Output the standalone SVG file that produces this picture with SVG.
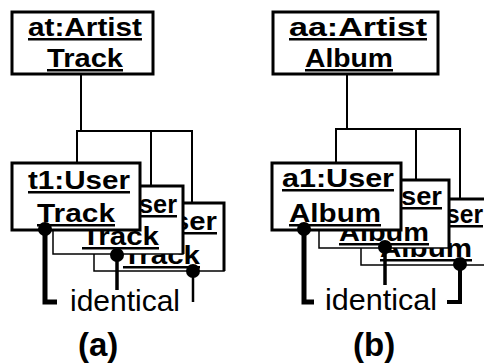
<svg xmlns="http://www.w3.org/2000/svg" width="484" height="364" viewBox="0 0 484 364">
<style>
.box{fill:#fff;stroke:#000;stroke-width:3}
.bk{fill:#fff;stroke:#000;stroke-width:1.5}
.edge{fill:none;stroke:#000;stroke-width:3}
.lbl{font-family:"Liberation Sans",Arial,sans-serif;font-weight:bold;font-size:25px;text-decoration:underline;fill:#000}
.wire{fill:none;stroke:#000;stroke-width:2}
.link{fill:none;stroke:#000}
.dot{fill:#000}
.id{font-family:"Liberation Sans",Arial,sans-serif;font-size:29px;fill:#000}
.cap{font-family:"Liberation Sans",Arial,sans-serif;font-weight:bold;font-size:33px;fill:#000}
</style>
<g id="n-at">
<rect class="box" x="12" y="12" width="141" height="62"/>
<text class="lbl" x="28" y="36" textLength="114" lengthAdjust="spacingAndGlyphs">at:Artist</text>
<text class="lbl" x="47" y="67" textLength="76" lengthAdjust="spacingAndGlyphs">Track</text>
</g>
<g id="n-t3">
<rect class="bk" x="94" y="203" width="130" height="68"/>
<polyline class="edge" points="94,203 224,203 224,271"/>
<text class="lbl" x="173" y="230" textLength="44" lengthAdjust="spacingAndGlyphs">ser</text>
<text class="lbl" x="123" y="264" textLength="77" lengthAdjust="spacingAndGlyphs">Track</text>
</g>
<g id="n-t2">
<rect class="bk" x="53" y="186" width="130" height="68"/>
<polyline class="edge" points="53,186 183,186 183,254"/>
<text class="lbl" x="139" y="213" textLength="38" lengthAdjust="spacingAndGlyphs">ser</text>
<text class="lbl" x="82" y="245" textLength="77" lengthAdjust="spacingAndGlyphs">Track</text>
</g>
<g id="n-t1">
<rect class="box" x="12" y="163" width="128" height="67"/>
<text class="lbl" x="28" y="189" textLength="102" lengthAdjust="spacingAndGlyphs">t1:User</text>
<text class="lbl" x="37" y="222" textLength="78" lengthAdjust="spacingAndGlyphs">Track</text>
</g>
<g id="n-aa">
<rect class="box" x="273" y="12" width="165" height="62"/>
<text class="lbl" x="289" y="36" textLength="138" lengthAdjust="spacingAndGlyphs">aa:Artist</text>
<text class="lbl" x="305" y="67" textLength="88" lengthAdjust="spacingAndGlyphs">Album</text>
</g>
<g id="n-a3">
<rect class="bk" x="361" y="199" width="130" height="66"/>
<polyline class="edge" points="361,199 491,199 491,265"/>
<text class="lbl" x="446" y="223" textLength="37" lengthAdjust="spacingAndGlyphs">ser</text>
<text class="lbl" x="380" y="257" textLength="92" lengthAdjust="spacingAndGlyphs">Album</text>
</g>
<g id="n-a2">
<rect class="bk" x="319" y="180" width="130" height="68"/>
<polyline class="edge" points="319,180 449,180 449,248"/>
<text class="lbl" x="401" y="205" textLength="41" lengthAdjust="spacingAndGlyphs">ser</text>
<text class="lbl" x="339" y="241" textLength="90" lengthAdjust="spacingAndGlyphs">Album</text>
</g>
<g id="n-a1">
<rect class="box" x="272" y="163" width="129" height="67"/>
<text class="lbl" x="282" y="187" textLength="112" lengthAdjust="spacingAndGlyphs">a1:User</text>
<text class="lbl" x="289" y="222" textLength="92" lengthAdjust="spacingAndGlyphs">Album</text>
</g>
<g id="connectors">
<path class="wire" d="M81,74 V131 M76,131 H193 M77,131 V163 M151,131 V186 M192,131 V203"/>
<path class="wire" d="M347,74 V129 M335,129 H461 M336,129 V163 M416,129 V180 M460,129 V199"/>
<path class="link" stroke-width="5" d="M45,229 V302 H57"/>
<path class="link" stroke-width="3.5" d="M117,255 V290"/>
<path class="link" stroke-width="2.5" d="M193,271 V302"/>
<circle class="dot" cx="45" cy="229" r="7"/>
<circle class="dot" cx="117" cy="255" r="7"/>
<circle class="dot" cx="193" cy="271" r="7"/>
<path class="link" stroke-width="5" d="M304,229 V302 H314"/>
<path class="link" stroke-width="3.5" d="M385,247 V285"/>
<path class="link" stroke-width="4" d="M460,264 V302 H447"/>
<circle class="dot" cx="304" cy="229" r="7"/>
<circle class="dot" cx="385" cy="247" r="7"/>
<circle class="dot" cx="460" cy="264" r="7"/>
</g>
<g id="labels">
<text class="id" x="70" y="311" textLength="110" lengthAdjust="spacingAndGlyphs">identical</text>
<text class="id" x="325" y="310" textLength="112" lengthAdjust="spacingAndGlyphs">identical</text>
<text class="cap" x="78" y="356">(a)</text>
<text class="cap" x="353" y="356">(b)</text>
</g>
</svg>
